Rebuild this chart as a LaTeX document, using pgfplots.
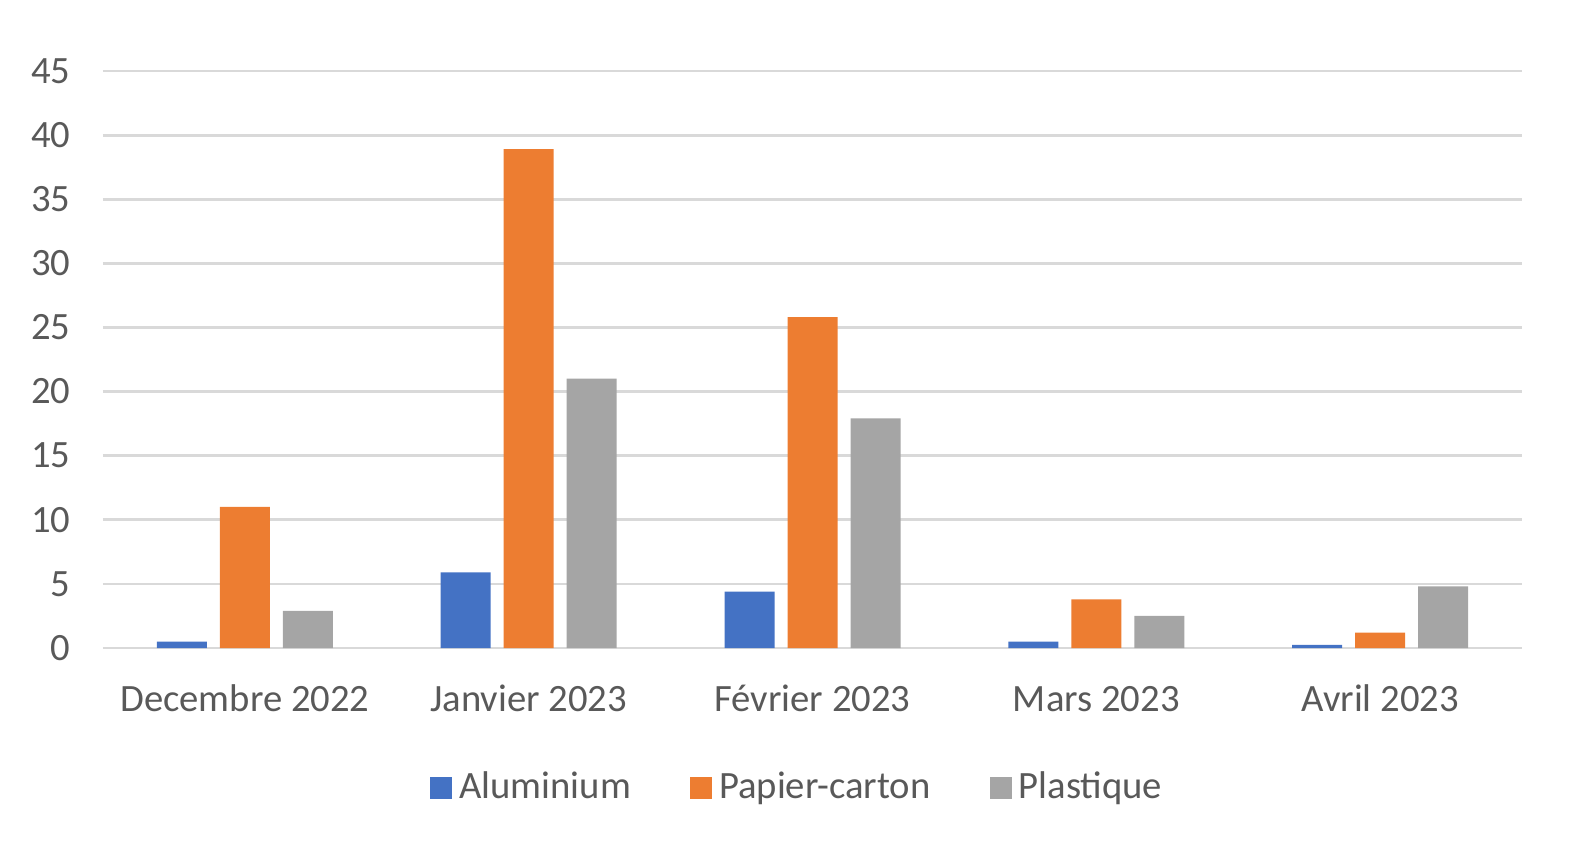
\documentclass[border=0pt]{standalone}
\usepackage{fontspec}
\setmainfont{Carlito}
\usepackage{pgfplots}
\pgfplotsset{compat=1.18}
\usetikzlibrary{calc}
\definecolor{alu}{RGB}{68,114,196}
\definecolor{pap}{RGB}{237,125,49}
\definecolor{pla}{RGB}{165,165,165}
\definecolor{txt}{RGB}{89,89,89}
\definecolor{grd}{RGB}{217,217,217}
\begin{document}
\begin{tikzpicture}
\begin{axis}[
    name=ax,
    scale only axis,
    width=141.9mm, height=57.7mm,
    xmin=-0.5, xmax=4.5,
    ymin=0, ymax=45,
    ytick={0,5,...,45},
    xtick={0,1,2,3,4},
    xticklabels={Decembre 2022,Janvier 2023,Février 2023,Mars 2023,Avril 2023},
    ybar=1.3mm, bar width=5mm,
    axis line style={draw=none},
    major tick length=0pt,
    ymajorgrids, grid style={grd, line width=0.8pt},
    ticklabel style={font=\fontsize{11}{13}\selectfont, text=txt},
    yticklabel style={xshift=-2mm},
    xticklabel style={yshift=-2.3mm, text height=1.7ex, text depth=0.5ex},
    /pgf/number format/assume math mode=true,
    legend style={at={(0.491,-0.242)}, anchor=center, draw=none,
        font=\fontsize{11}{13}\selectfont, text=txt,
        /tikz/every even column/.append style={column sep=5.2mm}},
    legend columns=3,
    legend image code/.code={\fill[#1,draw=none] (0mm,-1.1mm) rectangle (2.2mm,1.1mm);},
]
\addplot[fill=alu, draw=none] coordinates {(0,0.5) (1,5.9) (2,4.4) (3,0.5) (4,0.25)};
\addplot[fill=pap, draw=none] coordinates {(0,11) (1,38.9) (2,25.8) (3,3.8) (4,1.2)};
\addplot[fill=pla, draw=none] coordinates {(0,2.9) (1,21) (2,17.9) (3,2.5) (4,4.8)};
\legend{Aluminium,Papier-carton,Plastique}
\end{axis}
\pgfresetboundingbox
\path ($(ax.south west)+(-10.3mm,-19.7mm)$) rectangle ($(ax.north east)+(5.3mm,7.1mm)$);
\end{tikzpicture}
\end{document}
